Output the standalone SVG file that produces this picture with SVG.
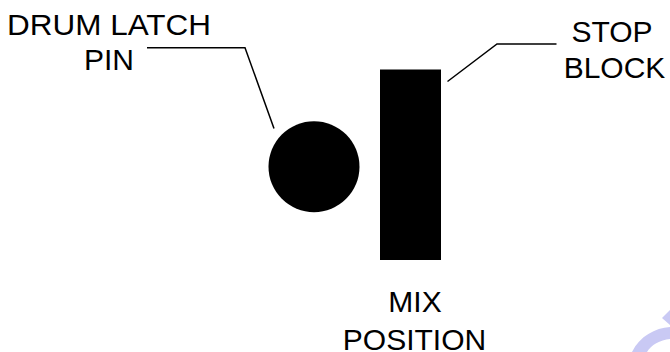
<svg xmlns="http://www.w3.org/2000/svg" width="670" height="352" viewBox="0 0 670 352">
<style>
.t{font-family:"Liberation Sans",Arial,sans-serif;font-size:30px;fill:#000;text-anchor:middle}
.ld{fill:none;stroke:#000;stroke-width:1.5}
</style>
<rect width="670" height="352" fill="#fff"/>
<g id="connectors">
<polyline class="ld" points="147,47.7 245,47.7 274,128.5"/>
<polyline class="ld" points="447.5,81.5 497,44 556.5,44"/>
</g>
<g id="pin">
<circle cx="314" cy="166.7" r="45.5" fill="#000"/>
</g>
<g id="block">
<rect x="380" y="69.5" width="61" height="190.5" fill="#000"/>
</g>
<g id="label-pin">
<text class="t" x="109" y="35" textLength="204" lengthAdjust="spacingAndGlyphs">DRUM LATCH</text>
<text class="t" x="109" y="70">PIN</text>
</g>
<g id="label-stop">
<text class="t" x="612" y="41.7">STOP</text>
<text class="t" x="614.5" y="77.7">BLOCK</text>
</g>
<g id="label-mix">
<text class="t" x="415" y="311.7">MIX</text>
<text class="t" x="414.5" y="349.5">POSITION</text>
</g>
<g id="watermark" fill="#c9c9f4">
<path d="M632,352 C640,336 655,328 670,327 L670,339 C660,340 651,345 647,352 Z"/>
<path d="M662,318 L670,310 L670,325 Z"/>
</g>
</svg>
